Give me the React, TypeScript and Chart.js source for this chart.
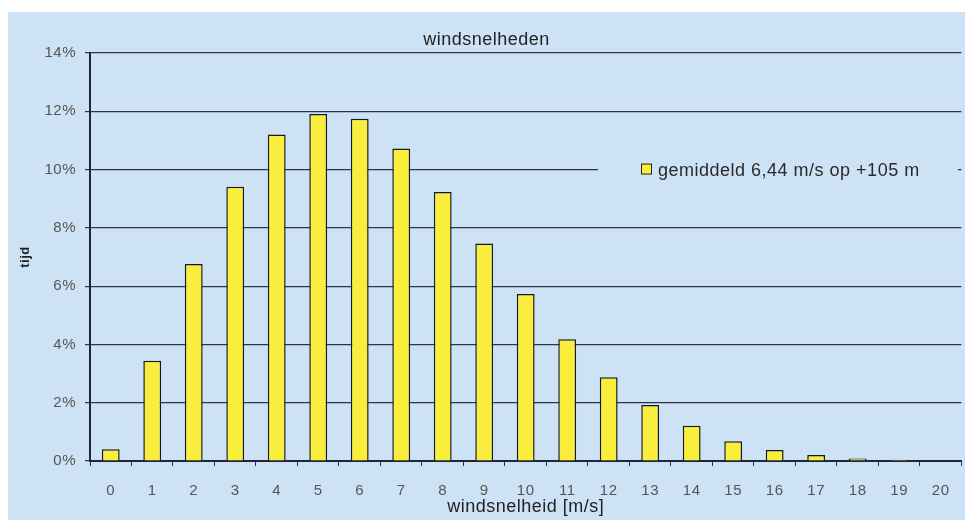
import React, { useEffect, useRef } from "react";
import { Chart, registerables } from "chart.js";

Chart.register(...registerables);

const categories = ["0","1","2","3","4","5","6","7","8","9","10","11","12","13","14","15","16","17","18","19","20"];
const frequencyPct = [0.4, 3.44, 6.76, 9.41, 11.2, 11.91, 11.74, 10.72, 9.23, 7.46, 5.73, 4.18, 2.87, 1.92, 1.21, 0.68, 0.38, 0.21, 0.09, 0.04, 0];
const seriesLabel = "gemiddeld 6,44 m/s op +105 m";
const chartTitle = "windsnelheden";
const xTitle = "windsnelheid [m/s]";
const yTitle = "tijd";

const BG = "rgb(206,226,245)";
const FONT = "'Liberation Sans', Arial, sans-serif";

const spacing = {
  id: "spacing",
  beforeDraw(chart: any) {
    chart.ctx.letterSpacing = "0.5px";
  },
  afterDraw(chart: any) {
    chart.ctx.letterSpacing = "0px";
  },
};

const insideLegend = {
  id: "insideLegend",
  afterDatasetsDraw(chart: any) {
    const { ctx, chartArea } = chart;
    const ds = chart.data.datasets[0];
    const y = chart.scales.y.getPixelForValue(10);
    const x0 = chartArea.left + 508;
    ctx.save();
    ctx.fillStyle = BG;
    ctx.fillRect(x0, y - 18, 360, 36);
    ctx.fillStyle = ds.backgroundColor;
    ctx.strokeStyle = "#222";
    ctx.lineWidth = 1;
    ctx.fillRect(x0 + 43, y - 6, 11, 11);
    ctx.strokeRect(x0 + 43.5, y - 5.5, 10, 10);
    ctx.fillStyle = "#2a2a2a";
    ctx.font = "18px " + FONT;
    ctx.textBaseline = "middle";
    ctx.textAlign = "left";
    ctx.fillText(ds.label, x0 + 60, y + 1);
    ctx.restore();
  },
};

export default function App() {
  const ref = useRef<HTMLCanvasElement | null>(null);
  useEffect(() => {
    if (!ref.current) return;
    const chart = new Chart(ref.current, {
      type: "bar",
      data: {
        labels: categories,
        datasets: [
          {
            label: seriesLabel,
            data: frequencyPct,
            backgroundColor: "rgb(250,238,60)",
            borderColor: "#1a1a1a",
            borderWidth: 1.5,
            borderSkipped: "bottom",
            categoryPercentage: 1,
            barPercentage: 0.43,
          },
        ],
      },
      options: {
        animation: false,
        responsive: false,
        maintainAspectRatio: false,
        layout: { padding: 0 },
        plugins: {
          legend: { display: false },
          tooltip: { enabled: false },
          title: {
            display: true,
            text: chartTitle,
            color: "#222",
            font: { family: FONT, size: 18, weight: "normal", lineHeight: 1.2 },
            padding: { top: 17, bottom: 2.4 },
          },
        },
        scales: {
          x: {
            offset: true,
            grid: {
              display: true,
              offset: true,
              drawOnChartArea: false,
              drawTicks: true,
              tickLength: 5,
              color: "#2b3550",
              lineWidth: 1,
            },
            border: { display: true, color: "#1e2638", width: 2 },
            ticks: {
              color: "#555",
              font: { family: FONT, size: 15 },
              padding: 16,
              maxRotation: 0,
              autoSkip: false,
            },
            title: {
              display: true,
              text: xTitle,
              color: "#222",
              font: { family: FONT, size: 18, lineHeight: 1.2 },
              padding: { top: 0, bottom: 2 },
            },
            afterFit(scale: any) {
              scale.height = 59;
            },
          },
          y: {
            min: 0,
            max: 14,
            ticks: {
              stepSize: 2,
              color: "#555",
              font: { family: FONT, size: 15 },
              padding: 9,
              callback: (v: any) => v + "%",
            },
            grid: {
              color: "#2b3550",
              lineWidth: 1.2,
              drawTicks: true,
              tickLength: 5,
            },
            border: { display: true, color: "#1e2638", width: 2 },
            title: {
              display: true,
              text: yTitle,
              color: "#222",
              font: { family: FONT, size: 13, weight: "bold", lineHeight: 1.2 },
              padding: { top: 10, bottom: 0 },
            },
            afterFit(scale: any) {
              scale.width = 82;
            },
          },
        },
      },
      plugins: [spacing, insideLegend],
    });
    return () => chart.destroy();
  }, []);

  return (
    <div
      style={{
        position: "absolute",
        left: 8,
        top: 12,
        width: 957,
        height: 508,
        background: BG,
        overflow: "hidden",
      }}
    >
      <canvas ref={ref} width={957} height={508} style={{ display: "block" }} />
    </div>
  );
}
